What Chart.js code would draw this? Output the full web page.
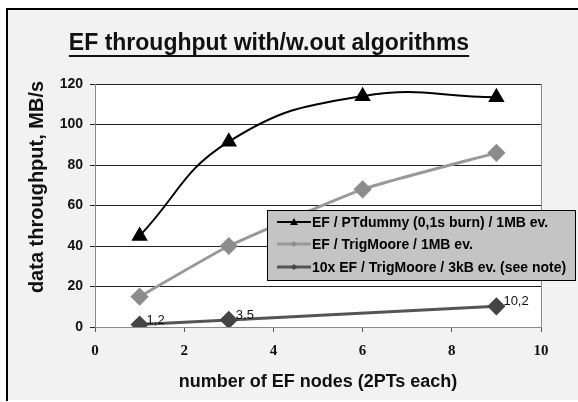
<!DOCTYPE html>
<html>
<head>
<meta charset="utf-8">
<script src="https://cdn.jsdelivr.net/npm/chart.js@4/dist/chart.umd.min.js"></script>
<style>
  html, body { margin: 0; padding: 0; background: #ffffff; }
  #wrap { position: relative; width: 578px; height: 402px; }
</style>
</head>
<body>
<div id="wrap"><canvas id="c" width="578" height="402"></canvas></div>
<script>
// ---- data ----
const titleText = "EF throughput with/w.out algorithms";
const xTitle = "number of EF nodes (2PTs each)";
const yTitle = "data throughput, MB/s";
const seriesNames = [
  "EF / PTdummy (0,1s burn) / 1MB ev.",
  "EF / TrigMoore / 1MB ev.",
  "10x EF / TrigMoore / 3kB ev. (see note)"
];
const nodesA = [1, 3, 6, 9];
const dummyValues = [45, 91.5, 114, 113.5];
const nodesB = [1, 3, 6, 9];
const trigValues = [15, 40, 68, 86];
const nodesC = [1, 3, 9];
const smallEvValues = [1.2, 3.5, 10.2];
const xTicks = [0, 2, 4, 6, 8, 10];
const yTicks = [0, 20, 40, 60, 80, 100, 120];

const pts = (xs, ys) => xs.map((x, i) => ({ x: x, y: ys[i] }));

const FONT = "Arial, 'Liberation Sans', sans-serif";

const framePlugin = {
  id: 'frame',
  beforeDraw(chart) {
    const ctx = chart.ctx;
    const a = chart.chartArea;
    ctx.save();
    ctx.fillStyle = '#ffffff';
    ctx.fillRect(0, 0, chart.width, chart.height);
    ctx.fillStyle = '#f2f2f2';
    ctx.fillRect(6, 8, chart.width, 392);
    ctx.strokeStyle = '#000000';
    ctx.lineWidth = 2;
    ctx.beginPath();
    ctx.moveTo(7, 401);
    ctx.lineTo(7, 9);
    ctx.lineTo(chart.width + 2, 9);
    ctx.stroke();
    ctx.fillStyle = '#ffffff';
    ctx.fillRect(a.left, a.top, a.right - a.left, a.bottom - a.top);
    ctx.strokeStyle = '#8a8a8a';
    ctx.lineWidth = 1;
    ctx.strokeRect(a.left + 0.5, a.top + 0.5, a.right - a.left, a.bottom - a.top);
    // title
    ctx.font = "bold 23px " + FONT;
    ctx.fillStyle = '#111111';
    ctx.textAlign = 'center';
    ctx.textBaseline = 'alphabetic';
    const cx = 269;
    ctx.fillText(titleText, cx, 50);
    const w = ctx.measureText(titleText).width;
    ctx.fillRect(cx - w / 2, 55, w, 2);
    // y axis title
    ctx.save();
    ctx.translate(37, 187);
    ctx.rotate(-Math.PI / 2);
    ctx.font = "bold 20px " + FONT;
    ctx.textBaseline = 'middle';
    ctx.fillText(yTitle, 0, 0);
    ctx.restore();
    ctx.restore();
  },
  afterDatasetsDraw(chart) {
    const ctx = chart.ctx;
    ctx.save();
    // data labels for third series
    const meta = chart.getDatasetMeta(2);
    ctx.font = "13px " + FONT;
    ctx.fillStyle = '#111111';
    ctx.textAlign = 'left';
    ctx.textBaseline = 'bottom';
    meta.data.forEach((p, i) => {
      const t = String(smallEvValues[i]).replace('.', ',');
      ctx.fillText(t, p.x + 7, p.y + 2);
    });
    // legend
    const lx = 267, ly = 210, lw = 308, lh = 70;
    ctx.fillStyle = '#c4c4c4';
    ctx.fillRect(lx, ly, lw, lh);
    ctx.strokeStyle = '#000000';
    ctx.lineWidth = 1;
    ctx.strokeRect(lx + 0.5, ly + 0.5, lw, lh);
    const rows = [222, 244, 267];
    ctx.font = "bold 14px " + FONT;
    ctx.textBaseline = 'middle';
    chart.data.datasets.forEach((ds, i) => {
      const y = rows[i];
      ctx.strokeStyle = ds.borderColor;
      ctx.lineWidth = ds.borderWidth;
      ctx.beginPath();
      ctx.moveTo(277, y);
      ctx.lineTo(311, y);
      ctx.stroke();
      ctx.fillStyle = ds.pointBackgroundColor;
      if (ds.pointStyle === 'triangle') {
        ctx.beginPath();
        ctx.moveTo(294, y - 4);
        ctx.lineTo(298, y + 3);
        ctx.lineTo(290, y + 3);
        ctx.closePath();
        ctx.fill();
      } else {
        ctx.beginPath();
        ctx.moveTo(294, y - 3);
        ctx.lineTo(297, y);
        ctx.lineTo(294, y + 3);
        ctx.lineTo(291, y);
        ctx.closePath();
        ctx.fill();
      }
      ctx.fillStyle = '#000000';
      ctx.fillText(ds.label, 312, y + 1);
    });
    ctx.restore();
  }
};

new Chart(document.getElementById('c'), {
  type: 'scatter',
  data: {
    datasets: [
      {
        label: seriesNames[0],
        data: pts(nodesA, dummyValues),
        showLine: true,
        tension: 0.45,
        borderColor: '#000000',
        backgroundColor: '#000000',
        pointBackgroundColor: '#000000',
        pointBorderColor: '#000000',
        borderWidth: 2,
        pointStyle: 'triangle',
        pointRadius: 7.5
      },
      {
        label: seriesNames[1],
        data: pts(nodesB, trigValues),
        showLine: true,
        tension: 0.15,
        borderColor: '#999999',
        backgroundColor: '#999999',
        pointBackgroundColor: '#8c8c8c',
        pointBorderColor: '#8c8c8c',
        borderWidth: 3,
        pointStyle: 'rectRot',
        pointRadius: 7
      },
      {
        label: seriesNames[2],
        data: pts(nodesC, smallEvValues),
        showLine: true,
        tension: 0,
        borderColor: '#555555',
        backgroundColor: '#555555',
        pointBackgroundColor: '#444444',
        pointBorderColor: '#444444',
        borderWidth: 3,
        pointStyle: 'rectRot',
        pointRadius: 7
      }
    ]
  },
  options: {
    responsive: false,
    animation: false,
    layout: { padding: { top: 84, right: 37, left: 0, bottom: 0 } },
    plugins: {
      legend: { display: false },
      tooltip: { enabled: false },
      title: { display: false }
    },
    scales: {
      x: {
        type: 'linear',
        min: 0, max: 10,
        afterBuildTicks(scale) { scale.ticks = xTicks.map(v => ({ value: v })); },
        afterFit(scale) { scale.height = 75; },
        grid: { drawOnChartArea: false, drawTicks: true, tickLength: 5, color: '#555555' },
        border: { display: true, color: '#8a8a8a' },
        ticks: {
          color: '#111111',
          padding: 10,
          maxRotation: 0,
          font: { family: "'Liberation Serif', 'Times New Roman', serif", size: 15, weight: 'bold' }
        },
        title: {
          display: true,
          text: xTitle,
          color: '#111111',
          font: { family: FONT, size: 18, weight: 'bold' },
          padding: { top: 0, bottom: 9 }
        }
      },
      y: {
        type: 'linear',
        min: 0, max: 120,
        afterBuildTicks(scale) { scale.ticks = yTicks.map(v => ({ value: v })); },
        afterFit(scale) { scale.width = 95; },
        grid: { drawOnChartArea: true, drawTicks: true, tickLength: 5, color: '#222222', lineWidth: 1 },
        border: { display: true, color: '#8a8a8a' },
        ticks: {
          color: '#111111',
          padding: 7,
          font: { family: FONT, size: 14, weight: 'bold' }
        },
        title: { display: false }
      }
    }
  },
  plugins: [framePlugin]
});
</script>
</body>
</html>
